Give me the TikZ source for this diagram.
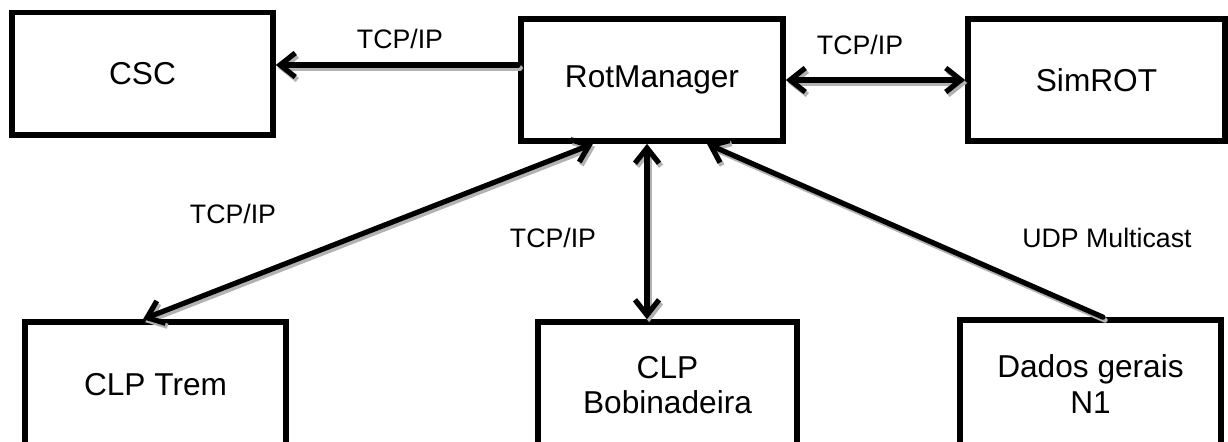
\documentclass[tikz,border=0pt]{standalone}
\usepackage{fontspec}
\setmainfont{Liberation Sans}
\usetikzlibrary{arrows.meta}
\newcommand{\link}[3]{%
    \draw[conn,linkshadow,#1] #2 -- #3;
    \draw[conn,#1] #2 -- #3;}
\begin{document}
\begin{tikzpicture}[line join=round, line cap=round, >={Straight Barb[length=3.8mm,width=6mm]}, x=0.025cm, y=-0.025cm]
    \tikzset{box/.style={draw, line width=4pt, line join=miter, inner sep=0pt, align=center, font=\fontsize{22.5}{25}\selectfont},
             conn/.style={line width=3.7pt},
             linkshadow/.style={draw=gray!60, transform canvas={xshift=1.5pt,yshift=-2.1pt}},
             lbl/.style={font=\fontsize{19}{22}\selectfont}}
    \path[use as bounding box, clip] (0,0) rectangle (1228,441);
    \node[box, minimum width=6.525cm, minimum height=3.06cm] (csc) at (142.5,73.75) {CSC};
    \node[box, minimum width=6.55cm, minimum height=3.05cm] (rot) at (652,80) {RotManager};
    \node[box, minimum width=6.425cm, minimum height=3.05cm] (sim) at (1096.5,80) {SimROT};
    \node[box, minimum width=6.525cm, minimum height=3.15cm] (trem) at (155.5,385) {CLP Trem};
    \node[box, minimum width=6.475cm, minimum height=3.15cm] (bob) at (667.5,385) {CLP\\Bobinadeira};
    \node[box, minimum width=6.525cm, minimum height=3.2cm] (dados) at (1090.5,384) {Dados gerais\\N1};
    \link{->}{([yshift=0.375cm]rot.west)}{([yshift=0.375cm]rot.west -| csc.east)}
    \link{<->}{(rot.east)}{(sim.west)}
    \link{<->}{([xshift=-1.475cm]rot.south)}{([xshift=-0.31cm]trem.north)}
    \link{<->}{([xshift=-0.125cm]rot.south)}{([xshift=-0.125cm]rot.south |- bob.north)}
    \link{->}{([xshift=0.3125cm]dados.north)}{([xshift=1.375cm]rot.south)}
    \node[lbl] (l1) at (400,39) {TCP/IP};
    \node[lbl] (l2) at (860,45) {TCP/IP};
    \node[lbl] (l3) at (233,214) {TCP/IP};
    \node[lbl] (l4) at (553,238) {TCP/IP};
    \node[lbl] (l5) at (1107,238) {UDP Multicast};
\end{tikzpicture}
\end{document}
